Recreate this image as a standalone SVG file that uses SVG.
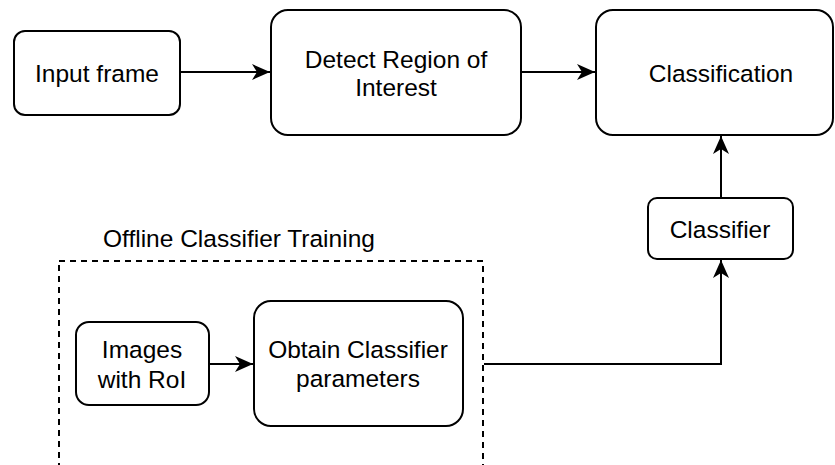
<svg xmlns="http://www.w3.org/2000/svg" width="835" height="465" viewBox="0 0 835 465">
<style>
.node rect{fill:#fff;stroke:#000;stroke-width:2}
text{font-family:"Liberation Sans",Arial,sans-serif;font-size:24.5px;fill:#000;text-anchor:middle}
.edge{fill:none;stroke:#000;stroke-width:2}
.dash{fill:none;stroke:#000;stroke-width:2;stroke-dasharray:6 5}
</style>
<defs>
<marker id="arr" markerUnits="userSpaceOnUse" markerWidth="20" markerHeight="18" viewBox="0 0 20 18" refX="19" refY="9" orient="auto">
<path d="M1,1 L19,9 L1,17 L6,9 Z" fill="#000"/>
</marker>
</defs>
<rect class="dash" x="59" y="261" width="424" height="230"/>
<text x="103" y="247" style="text-anchor:start">Offline Classifier Training</text>
<g id="input-frame" class="node">
<rect x="14" y="31" width="166" height="84" rx="11"/>
<text x="97" y="82">Input frame</text>
</g>
<g id="detect-roi" class="node">
<rect x="271" y="10" width="250" height="125" rx="17"/>
<text x="396" y="68">Detect Region of</text>
<text x="396" y="96">Interest</text>
</g>
<g id="classification" class="node">
<rect x="596" y="10" width="237" height="125" rx="17"/>
<text x="721" y="82">Classification</text>
</g>
<g id="classifier" class="node">
<rect x="648" y="198" width="145" height="61" rx="9"/>
<text x="720" y="238">Classifier</text>
</g>
<g id="images-roi" class="node">
<rect x="76" y="322" width="133" height="83" rx="13"/>
<text x="142" y="358">Images</text>
<text x="142" y="388">with RoI</text>
</g>
<g id="obtain-params" class="node">
<rect x="254" y="301" width="209" height="125" rx="17"/>
<text x="358" y="358">Obtain Classifier</text>
<text x="358" y="387">parameters</text>
</g>
<g id="connectors">
<path class="edge" d="M180,72 L270,72" marker-end="url(#arr)"/>
<path class="edge" d="M521,72 L595,72" marker-end="url(#arr)"/>
<path class="edge" d="M721,198 L721,136" marker-end="url(#arr)"/>
<path class="edge" d="M209,364 L253,364" marker-end="url(#arr)"/>
<path class="edge" d="M484,364 L721,364 L721,260" marker-end="url(#arr)"/>
</g>
</svg>
